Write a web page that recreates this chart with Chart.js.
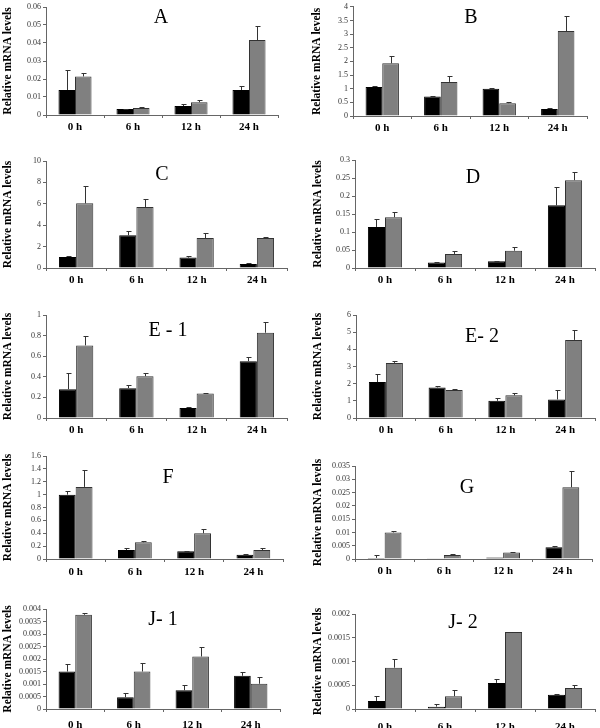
<!DOCTYPE html>
<html>
<head>
<meta charset="utf-8">
<script src="https://cdn.jsdelivr.net/npm/chart.js@4/dist/chart.umd.min.js"></script>
<style>
  html, body { margin: 0; padding: 0; background: #fff; }
  #wrap { position: relative; width: 600px; height: 728px; overflow: hidden; background: #fff; }
  #wrap canvas { position: absolute; }
</style>
</head>
<body>
<div id="wrap"></div>
<script>
// time points shared by every panel
const hours = ['0 h', '6 h', '12 h', '24 h'];

// panel titles and y scale settings
const panelNames = ['A', 'B', 'C', 'D', 'E - 1', 'E- 2', 'F', 'G', 'J- 1', 'J- 2'];
const yMaxes = [0.06, 4, 10, 0.3, 1, 6, 1.6, 0.035, 0.004, 0.002];
const ySteps = [0.01, 0.5, 2, 0.05, 0.2, 1, 0.2, 0.005, 0.0005, 0.0005];

// black bars (first series) and their error values
const aBlack = [0.0139, 0.0033, 0.005, 0.0139];
const aBlackErr = [0.011, 0.0002, 0.0009, 0.0023];
const bBlack = [1.06, 0.71, 1.0, 0.26];
const bBlackErr = [0.05, 0.02, 0.02, 0.02];
const cBlack = [1.03, 3.05, 0.97, 0.37];
const cBlackErr = [0.12, 0.38, 0.15, 0.07];
const dBlack = [0.114, 0.015, 0.0186, 0.174];
const dBlackErr = [0.022, 0.001, 0.0014, 0.05];
const e1Black = [0.28, 0.29, 0.097, 0.552];
const e1BlackErr = [0.16, 0.035, 0.01, 0.042];
const e2Black = [2.09, 1.78, 1.0, 1.08];
const e2BlackErr = [0.5, 0.06, 0.16, 0.57];
const fBlack = [1.0, 0.14, 0.12, 0.067];
const fBlackErr = [0.06, 0.03, 0.01, 0.01];
const gBlack = [0.0004, 0.00025, 0.0006, 0.0044];
const gBlackErr = [0.001, 0, 0, 0.0004];
const j1Black = [0.0015, 0.00047, 0.00075, 0.00133];
const j1BlackErr = [0.0003, 0.00016, 0.00022, 0.00014];
const j2Black = [0.00017, 0.00005, 0.00055, 0.0003];
const j2BlackErr = [0.0001, 0.00005, 0.00008, 0.00002];

// grey bars (second series) and their error values
const aGrey = [0.0214, 0.0039, 0.0071, 0.0416];
const aGreyErr = [0.0018, 0.0006, 0.0013, 0.008];
const bGrey = [1.93, 1.25, 0.47, 3.11];
const bGreyErr = [0.26, 0.21, 0.04, 0.54];
const cGrey = [6.04, 5.7, 2.8, 2.8];
const cGreyErr = [1.66, 0.78, 0.5, 0.1];
const dGrey = [0.141, 0.039, 0.048, 0.244];
const dGreyErr = [0.015, 0.007, 0.009, 0.023];
const e1Grey = [0.705, 0.406, 0.237, 0.828];
const e1GreyErr = [0.095, 0.034, 0.01, 0.101];
const e2Grey = [3.21, 1.63, 1.32, 4.55];
const e2GreyErr = [0.1, 0.05, 0.11, 0.56];
const fGrey = [1.12, 0.26, 0.40, 0.14];
const fGreyErr = [0.26, 0.02, 0.06, 0.035];
const gGrey = [0.010, 0.0015, 0.0024, 0.027];
const gGreyErr = [0.0004, 0.0002, 0.0001, 0.0061];
const j1Grey = [0.00377, 0.0015, 0.0021, 0.00101];
const j1GreyErr = [0.00007, 0.00034, 0.00037, 0.00026];
const j2Grey = [0.00087, 0.00027, 0.00162, 0.00044];
const j2GreyErr = [0.00018, 0.00013, 0.00001, 0.00006];

const blackSeries = [aBlack, bBlack, cBlack, dBlack, e1Black, e2Black, fBlack, gBlack, j1Black, j2Black];
const blackErrors = [aBlackErr, bBlackErr, cBlackErr, dBlackErr, e1BlackErr, e2BlackErr, fBlackErr, gBlackErr, j1BlackErr, j2BlackErr];
const greySeries = [aGrey, bGrey, cGrey, dGrey, e1Grey, e2Grey, fGrey, gGrey, j1Grey, j2Grey];
const greyErrors = [aGreyErr, bGreyErr, cGreyErr, dGreyErr, e1GreyErr, e2GreyErr, fGreyErr, gGreyErr, j1GreyErr, j2GreyErr];

// page layout: canvas box, plot area edges, title spot, y-title x (all page px)
const boxes = [
  { x: 0,   y: 0,   w: 300, h: 145, l: 46,  r: 278, t: 7,   b: 115, tx: 161, ty: 18,  yt: 8,   lp: 3 },
  { x: 300, y: 0,   w: 300, h: 145, l: 353, r: 587, t: 6,   b: 116, tx: 471, ty: 18,  yt: 317, lp: 3 },
  { x: 0,   y: 145, w: 300, h: 145, l: 46,  r: 287, t: 161, b: 268, tx: 162, ty: 175, yt: 8,   lp: 3 },
  { x: 300, y: 145, w: 300, h: 145, l: 355, r: 595, t: 160, b: 268, tx: 473, ty: 178, yt: 318, lp: 3 },
  { x: 0,   y: 290, w: 300, h: 145, l: 46,  r: 287, t: 315, b: 418, tx: 168, ty: 331, yt: 8,   lp: 3 },
  { x: 300, y: 290, w: 300, h: 145, l: 356, r: 595, t: 315, b: 418, tx: 482, ty: 337, yt: 318, lp: 3 },
  { x: 0,   y: 435, w: 300, h: 145, l: 46,  r: 283, t: 456, b: 559, tx: 168, ty: 478, yt: 8,   lp: 4 },
  { x: 300, y: 435, w: 300, h: 145, l: 355, r: 592, t: 466, b: 559, tx: 467, ty: 488, yt: 318, lp: 3 },
  { x: 0,   y: 580, w: 300, h: 148, l: 46,  r: 280, t: 609, b: 709, tx: 163, ty: 620, yt: 8,   lp: 7 },
  { x: 300, y: 580, w: 300, h: 148, l: 355, r: 595, t: 614, b: 709, tx: 463, ty: 623, yt: 318, lp: 9 }
];

// upward error bars with a small cap
const errorBars = {
  id: 'errorBars',
  afterDatasetsDraw(chart) {
    const ctx = chart.ctx;
    const yScale = chart.scales.y;
    chart.data.datasets.forEach((ds, i) => {
      const meta = chart.getDatasetMeta(i);
      meta.data.forEach((bar, j) => {
        const err = ds.errors[j];
        if (!err) return;
        const top = Math.round(yScale.getPixelForValue(ds.data[j] + err)) + 0.5;
        const cx = Math.round(bar.x) + 0.5;
        ctx.save();
        ctx.strokeStyle = '#333';
        ctx.lineWidth = 1;
        ctx.beginPath();
        ctx.moveTo(cx, bar.y);
        ctx.lineTo(cx, top);
        ctx.moveTo(cx - 2, top);
        ctx.lineTo(cx + 3, top);
        ctx.stroke();
        ctx.restore();
      });
    });
  }
};

// big panel letter inside the plot
const panelLabel = {
  id: 'panelLabel',
  afterDraw(chart, args, opts) {
    const ctx = chart.ctx;
    ctx.save();
    ctx.font = '20px "Liberation Serif", "Times New Roman", serif';
    ctx.fillStyle = '#000';
    ctx.textAlign = 'center';
    ctx.textBaseline = 'middle';
    ctx.fillText(opts.text, opts.x, opts.y);
    ctx.restore();
  }
};

function fmt(v) {
  return String(+Number(v).toFixed(6));
}

function makePanel(i) {
  const bx = boxes[i];
  const wrap = document.getElementById('wrap');
  const canvas = document.createElement('canvas');
  canvas.width = bx.w;
  canvas.height = bx.h;
  canvas.style.left = bx.x + 'px';
  canvas.style.top = bx.y + 'px';
  canvas.style.width = bx.w + 'px';
  canvas.style.height = bx.h + 'px';
  wrap.appendChild(canvas);

  const yFont = 11.5;
  new Chart(canvas.getContext('2d'), {
    type: 'bar',
    data: {
      labels: hours,
      datasets: [{
        data: blackSeries[i],
        errors: blackErrors[i],
        backgroundColor: '#000',
        borderColor: '#000',
        borderWidth: 1,
        barPercentage: 1,
        categoryPercentage: 0.57
      }, {
        data: greySeries[i],
        errors: greyErrors[i],
        backgroundColor: '#808080',
        borderColor: '#333',
        borderWidth: 1,
        barPercentage: 1,
        categoryPercentage: 0.57
      }]
    },
    options: {
      responsive: false,
      animation: false,
      devicePixelRatio: 1,
      layout: { padding: { top: bx.t - bx.y, right: bx.x + bx.w - bx.r, left: 0, bottom: 0 } },
      plugins: {
        legend: { display: false },
        tooltip: { enabled: false },
        panelLabel: { text: panelNames[i], x: bx.tx - bx.x, y: bx.ty - bx.y }
      },
      scales: {
        x: {
          grid: { display: true, offset: true, drawOnChartArea: false, tickLength: 3, color: '#666' },
          border: { color: '#666' },
          ticks: {
            color: '#000',
            padding: bx.lp,
            font: { family: '"Liberation Serif", "Times New Roman", serif', size: 11, weight: 'bold' }
          },
          afterFit: (s) => { s.height = bx.y + bx.h - bx.b; }
        },
        y: {
          min: 0,
          max: yMaxes[i],
          grid: { display: true, drawOnChartArea: false, tickLength: 3, color: '#666' },
          border: { color: '#666' },
          ticks: {
            stepSize: ySteps[i],
            autoSkip: false,
            padding: 2,
            color: '#333',
            font: { family: '"Liberation Serif", "Times New Roman", serif', size: 8 },
            callback: (v) => fmt(v)
          },
          title: {
            display: true,
            text: 'Relative mRNA levels',
            color: '#000',
            padding: { top: Math.max(0, bx.yt - bx.x - yFont * 0.6), bottom: 0 },
            font: { family: '"Liberation Serif", "Times New Roman", serif', size: yFont, weight: 'bold' }
          },
          afterFit: (s) => { s.width = bx.l - bx.x; }
        }
      }
    },
    plugins: [errorBars, panelLabel]
  });
}

for (let i = 0; i < boxes.length; i++) makePanel(i);
</script>
</body>
</html>
